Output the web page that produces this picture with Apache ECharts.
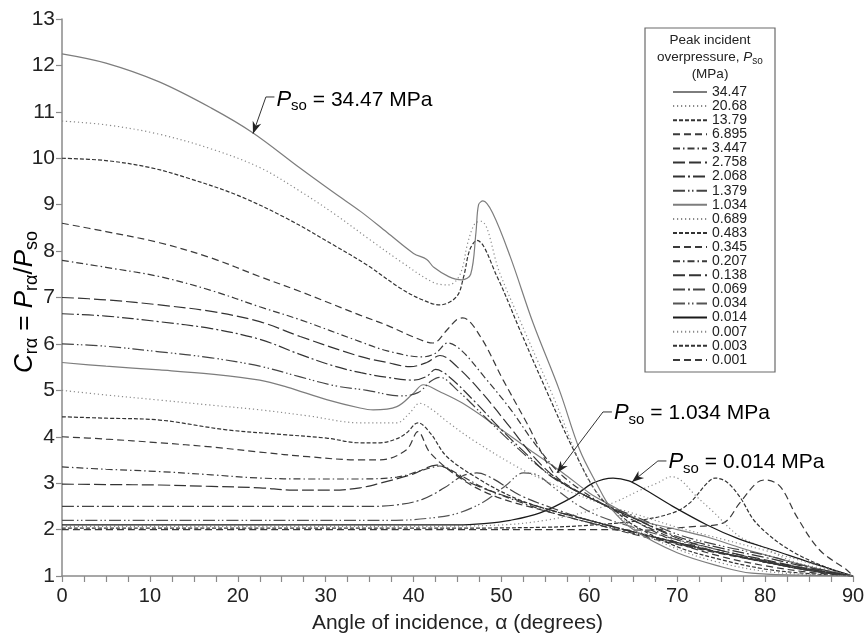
<!DOCTYPE html>
<html><head><meta charset="utf-8">
<script src="https://cdn.jsdelivr.net/npm/echarts@6/dist/echarts.min.js"></script>
<style>html,body{margin:0;padding:0;background:#fff}#c{width:867px;height:634px}</style>
</head><body><div id="c"></div>
<script>
// ---- data: [angle of incidence (deg), C_r_alpha] ----
const legendLabels = ['34.47','20.68','13.79','6.895','3.447','2.758','2.068','1.379','1.034','0.689','0.483','0.345','0.207','0.138','0.069','0.034','0.014','0.007','0.003','0.001'];
const d34_47 = [[0,12.25],[5,12.05],[11,11.65],[17,11.08],[21.7,10.55],[27,9.8],[31,9.25],[34,8.85],[37,8.4],[40,7.95],[41.5,7.82],[42.3,7.65],[44,7.45],[45.5,7.38],[46.5,7.5],[47.1,8.4],[47.4,9.0],[47.9,9.08],[49,8.82],[51,7.88],[53.6,6.45],[56.6,5.0],[58.9,3.72],[60.8,3.0],[62.5,2.45],[65,2.0],[70,1.5],[75,1.2],[78.5,1.06],[84,1.02],[90,1.0]];
const d20_68 = [[0,10.8],[5,10.72],[11,10.52],[17,10.2],[22.5,9.8],[27,9.3],[31,8.8],[35,8.25],[38.5,7.78],[42.2,7.33],[44,7.27],[45.3,7.5],[46.2,8.2],[47,8.6],[47.7,8.64],[49.8,7.53],[52.9,6.16],[55.9,4.86],[59.7,3.14],[62,2.55],[65,2.05],[70,1.58],[75,1.28],[80,1.1],[85,1.03],[90,1.0]];
const d13_79 = [[0,10.0],[5,9.95],[10,9.8],[14.2,9.58],[20,9.2],[25.6,8.7],[31,8.12],[34.7,7.7],[38.5,7.2],[41,6.95],[43,6.84],[44.9,7.02],[45.7,7.45],[46.4,8.03],[47.2,8.23],[49.5,7.45],[52.1,6.3],[55.1,5.0],[58.2,3.72],[61,2.75],[63,2.4],[65,2.1],[70,1.63],[75,1.35],[80,1.15],[85,1.05],[90,1.0]];
const d6_895 = [[0,8.6],[5,8.42],[11.1,8.18],[17,7.85],[22.5,7.45],[27.1,7.13],[33.9,6.62],[37,6.4],[40,6.15],[42.2,6.02],[43.8,6.3],[44.9,6.52],[45.6,6.56],[47.6,6.16],[50.2,5.22],[52.9,4.29],[55.9,3.22],[58,2.9],[61.5,2.55],[65,2.2],[70,1.72],[75,1.42],[80,1.22],[85,1.08],[90,1.0]];
const d3_447 = [[0,7.8],[5,7.65],[11.1,7.45],[17,7.15],[22.5,6.8],[27.1,6.52],[33.9,6.05],[37,5.85],[41,5.72],[42.5,5.8],[43.9,6.02],[45.5,5.85],[48,5.3],[51,4.6],[54,3.8],[57,3.15],[61.5,2.55],[65,2.2],[70,1.78],[75,1.5],[80,1.3],[85,1.12],[90,1.0]];
const d2_758 = [[0,7.0],[5,6.95],[11.1,6.84],[17,6.7],[22.5,6.48],[27.1,6.16],[33.9,5.73],[37,5.6],[39.6,5.51],[41.5,5.6],[43,5.75],[45,5.5],[48,4.9],[51,4.2],[54,3.5],[57,3.0],[61.5,2.55],[65,2.25],[70,1.82],[75,1.55],[80,1.35],[85,1.15],[90,1.0]];
const d2_068 = [[0,6.65],[5,6.6],[11,6.48],[17,6.33],[22.5,6.1],[27,5.78],[31,5.52],[34,5.38],[37,5.28],[40,5.22],[41.5,5.3],[42.5,5.45],[44,5.3],[47,4.75],[50,4.15],[53,3.6],[56,3.1],[61.5,2.55],[65,2.25],[70,1.85],[75,1.6],[80,1.4],[85,1.18],[90,1.0]];
const d1_379 = [[0,6.0],[5,5.95],[11.1,5.83],[17,5.7],[22.5,5.52],[27.1,5.29],[31,5.1],[34.7,5.0],[38.5,4.88],[40.5,4.95],[42,5.2],[43,5.28],[45,5.0],[48,4.45],[51,3.9],[54,3.4],[57,3.0],[61.5,2.55],[65,2.3],[70,1.9],[75,1.65],[80,1.45],[85,1.2],[90,1.0]];
const d1_034 = [[0,5.6],[5,5.52],[11.1,5.44],[17,5.35],[22.5,5.22],[25.6,5.07],[30.1,4.8],[33.9,4.62],[35.4,4.58],[38.1,4.65],[40,4.94],[41.1,5.12],[43,4.97],[45.6,4.72],[49.5,4.22],[53.2,3.72],[57,3.22],[60,2.79],[62,2.57],[65.8,2.2],[70,2.0],[73.4,1.84],[77,1.62],[80.9,1.41],[85,1.2],[90,1.0]];
const d0_689 = [[0,5.0],[5,4.9],[11.1,4.79],[17,4.68],[22.5,4.58],[28,4.45],[33.9,4.3],[38.1,4.3],[39.5,4.5],[40.7,4.72],[42,4.6],[44,4.3],[47,3.9],[51.8,3.35],[55,3.05],[58,2.8],[61.5,2.55],[65,2.35],[70,2.05],[75,1.8],[80,1.55],[85,1.28],[90,1.0]];
const d0_483 = [[0,4.43],[5,4.4],[11.1,4.36],[18.7,4.15],[25,4.05],[30.1,3.97],[33.9,3.87],[36.2,3.87],[38,3.95],[39.2,4.08],[40.5,4.3],[41.9,4.08],[43.8,3.57],[47.6,3.07],[51.3,2.7],[55,2.45],[60,2.2],[65,1.95],[70,1.72],[75,1.5],[80,1.32],[85,1.15],[90,1.0]];
const d0_345 = [[0,4.0],[5,3.95],[11.1,3.87],[17,3.78],[22.5,3.67],[28,3.57],[33.9,3.5],[36.2,3.5],[39.2,3.72],[40.5,4.11],[41.9,3.65],[45.6,3.07],[49.5,2.7],[55,2.4],[60,2.15],[65,1.9],[70,1.68],[75,1.48],[80,1.3],[85,1.13],[90,1.0]];
const d0_207 = [[0,3.35],[5,3.3],[11.1,3.25],[17,3.18],[22.5,3.11],[28,3.09],[33.9,3.09],[38.1,3.13],[40.5,3.25],[41.9,3.33],[43,3.37],[45,3.2],[48,2.9],[52,2.6],[56,2.35],[60,2.15],[65,1.92],[70,1.7],[75,1.5],[80,1.32],[85,1.15],[90,1.0]];
const d0_138 = [[0,2.98],[5,2.97],[11.1,2.96],[17,2.93],[22.5,2.9],[26.3,2.85],[30.8,2.85],[33.9,2.9],[36.2,3.0],[40,3.2],[42.6,3.39],[44,3.3],[46,3.05],[50,2.75],[55,2.45],[60,2.2],[65,1.95],[70,1.72],[75,1.5],[80,1.3],[85,1.12],[90,1.0]];
const d0_069 = [[0,2.5],[10,2.5],[20,2.5],[30,2.5],[35,2.5],[38,2.53],[41,2.65],[43.5,2.9],[45.5,3.15],[47.2,3.22],[49,3.1],[52,2.75],[56,2.45],[60,2.2],[65,1.95],[70,1.72],[75,1.5],[80,1.3],[85,1.12],[90,1.0]];
const d0_034 = [[0,2.2],[10,2.2],[20,2.2],[30,2.2],[38,2.2],[42,2.25],[45,2.35],[48,2.6],[50.5,2.95],[52.5,3.22],[54,3.18],[56,2.9],[58.5,2.55],[61,2.3],[65,2.05],[70,1.78],[75,1.55],[80,1.33],[85,1.15],[90,1.0]];
const d0_014 = [[0,2.1],[10,2.1],[20,2.1],[30,2.1],[40,2.1],[45,2.1],[48,2.13],[51,2.2],[54.4,2.36],[58.2,2.71],[60.4,3.0],[62.7,3.11],[64.5,3.05],[66,2.9],[69.5,2.5],[73.4,2.1],[77,1.8],[80.9,1.56],[85,1.3],[90,1.0]];
const d0_007 = [[0,2.07],[20,2.07],[40,2.07],[50,2.1],[55,2.2],[60,2.4],[63,2.6],[65.8,2.85],[67.7,3.0],[69.4,3.14],[70.5,3.05],[72,2.75],[74,2.4],[77.1,1.85],[80,1.6],[82.8,1.34],[86,1.18],[88.5,1.09],[90,1.0]];
const d0_003 = [[0,2.03],[20,2.03],[40,2.03],[55,2.05],[62,2.12],[65.8,2.2],[69.5,2.36],[71.4,2.57],[73.4,3.0],[74.3,3.11],[75.6,3.03],[77.1,2.71],[79,2.14],[82.8,1.56],[87.7,1.13],[90,1.0]];
const d0_001 = [[0,2.0],[20,2.0],[40,2.0],[60,2.0],[66,1.99],[71.4,2.06],[75.2,2.14],[77.1,2.57],[79,3.0],[80,3.07],[81.7,2.93],[83.6,2.28],[86.2,1.56],[89.3,1.13],[90,1.0]];
const curves = [d34_47,d20_68,d13_79,d6_895,d3_447,d2_758,d2_068,d1_379,d1_034,d0_689,d0_483,d0_345,d0_207,d0_138,d0_069,d0_034,d0_014,d0_007,d0_003,d0_001];

// annotations: label text, text anchor, leader corner, arrow tip (data coords)
const annoValues = ['34.47','1.034','0.014'];
const annoText = [[24.4,11.26],[62.8,4.513],[69.0,3.457]];
const annoCorner = [[23.2,11.32],[61.55,4.534],[67.8,3.478]];
const annoTip = [[21.73,10.53],[56.31,3.22],[64.85,3.026]];

// ---- styles ----
const DOT=[1.2,2.8], SD=[4,2], MD=[7,4], DD=[7,3,1.5,3], LD=[12,4], LDD=[12,3,2,3], LD3=[12,3,1.5,2.5,1.5,3];
const lineTypes = ['solid',DOT,SD,MD,DD,LD,LDD,LD3,'solid',DOT,SD,MD,DD,LD,LDD,LD3,'solid',DOT,SD,MD];
const lineColors = ['#7d7d7d','#8a8a8a','#333','#3a3a3a','#3a3a3a','#333','#333','#444','#7d7d7d','#8a8a8a','#333','#3a3a3a','#3a3a3a','#333','#444','#555','#1a1a1a','#8a8a8a','#333','#3a3a3a'];
const FONT = "'Liberation Sans', Arial, Helvetica, sans-serif";

const chart = echarts.init(document.getElementById('c'), null, {renderer:'canvas'});
const series = curves.map((d,i)=>({
  name: legendLabels[i], type:'line', data:d, symbol:'none', smooth:0.35,
  lineStyle:{color:lineColors[i], width:1.2, type:lineTypes[i]}, itemStyle:{color:lineColors[i]}, z: 20-i, animation:false
}));

chart.setOption({
  animation:false,
  backgroundColor:'#fff',
  grid:{left:62, right:14, top:19, bottom:58, containLabel:false, outerBoundsMode:'none'},
  xAxis:{type:'value', min:0, max:90, interval:10,
    axisLine:{lineStyle:{color:'#8a8a8a', width:1.5}},
    axisTick:{inside:false, length:6, lineStyle:{color:'#8a8a8a', width:1.2}},
    minorTick:{show:true, splitNumber:4, length:6, lineStyle:{color:'#8a8a8a', width:1.2}},
    splitLine:{show:false},
    axisLabel:{fontFamily:FONT, fontSize:20, color:'#222', margin:10},
    name:'Angle of incidence, α (degrees)', nameLocation:'middle', nameGap:37,
    nameTextStyle:{fontFamily:FONT, fontSize:21, color:'#222'}
  },
  yAxis:{type:'value', min:1, max:13, interval:1,
    axisLine:{show:true, lineStyle:{color:'#8a8a8a', width:1.5}},
    axisTick:{show:true, inside:false, length:6, lineStyle:{color:'#8a8a8a', width:1.2}},
    splitLine:{show:false},
    axisLabel:{fontFamily:FONT, fontSize:21, color:'#222', margin:7}
  },
  legend:{orient:'vertical', left:672, top:85, padding:0, itemWidth:34, itemHeight:10, itemGap:0.1,
    data:legendLabels,
    itemStyle:{color:'rgba(0,0,0,0)', borderWidth:0, opacity:0},
    textStyle:{fontFamily:FONT, fontSize:14, color:'#222', lineHeight:14},
    selectedMode:false},
  series: series
});

function px(p){ return chart.convertToPixel({gridIndex:0}, p); }
const g = [];
g.push({type:'rect', shape:{x:645, y:28, width:130, height:344}, style:{fill:'#fff', stroke:'#6a6a6a', lineWidth:1.2}, z:-1});
const titleRich = {n:{fontFamily:FONT, fontSize:13.5, color:'#222', lineHeight:17}, i:{fontFamily:FONT, fontSize:13.5, fontStyle:'italic', color:'#222', lineHeight:17}, s:{fontFamily:FONT, fontSize:10, color:'#222', lineHeight:11, verticalAlign:'bottom'}};
g.push({type:'text', x:710, y:32, style:{text:'{n|Peak incident}\n{n|overpressure, }{i|P}{s|so}\n{n|(MPa)}', rich:titleRich, align:'center', verticalAlign:'top', fill:'#222'}, z:100});
const yRich = {i:{fontFamily:FONT, fontSize:26, fontStyle:'italic', color:'#222', lineHeight:32}, n:{fontFamily:FONT, fontSize:26, color:'#222', lineHeight:32}, s:{fontFamily:FONT, fontSize:18, color:'#222', lineHeight:18, verticalAlign:'bottom'}};
g.push({type:'text', x:25, y:302, rotation:Math.PI/2, style:{text:'{i|C}{s|rα}{n| = }{i|P}{s|rα}{n|/}{i|P}{s|so}', rich:yRich, align:'center', verticalAlign:'middle'}, z:100});
const aRich = {i:{fontFamily:FONT, fontSize:22, fontStyle:'italic', color:'#222', lineHeight:28}, n:{fontFamily:FONT, fontSize:21, color:'#222', lineHeight:28}, s:{fontFamily:FONT, fontSize:15, color:'#222', lineHeight:15, verticalAlign:'bottom'}};
for (let k=0;k<annoValues.length;k++){
  const t = px(annoText[k]), c = px(annoCorner[k]), tip = px(annoTip[k]);
  g.push({type:'text', x:t[0], y:t[1], style:{text:'{i|P}{s|so}{n| = '+annoValues[k]+' MPa}', rich:aRich, align:'left', verticalAlign:'middle'}, z:100});
  g.push({type:'polyline', shape:{points:[[t[0]-2,c[1]],c,tip]}, style:{stroke:'#333', lineWidth:1, fill:null}, z:100});
  const dx=tip[0]-c[0], dy=tip[1]-c[1], L=Math.hypot(dx,dy), ux=dx/L, uy=dy/L, pxp=-uy, pyp=ux;
  const hl=12, hw=4.5;
  g.push({type:'polygon', shape:{points:[tip,[tip[0]-hl*ux+hw*pxp, tip[1]-hl*uy+hw*pyp],[tip[0]-0.7*hl*ux, tip[1]-0.7*hl*uy],[tip[0]-hl*ux-hw*pxp, tip[1]-hl*uy-hw*pyp]]}, style:{fill:'#222'}, z:100});
}
chart.setOption({graphic:g});
</script></body></html>
